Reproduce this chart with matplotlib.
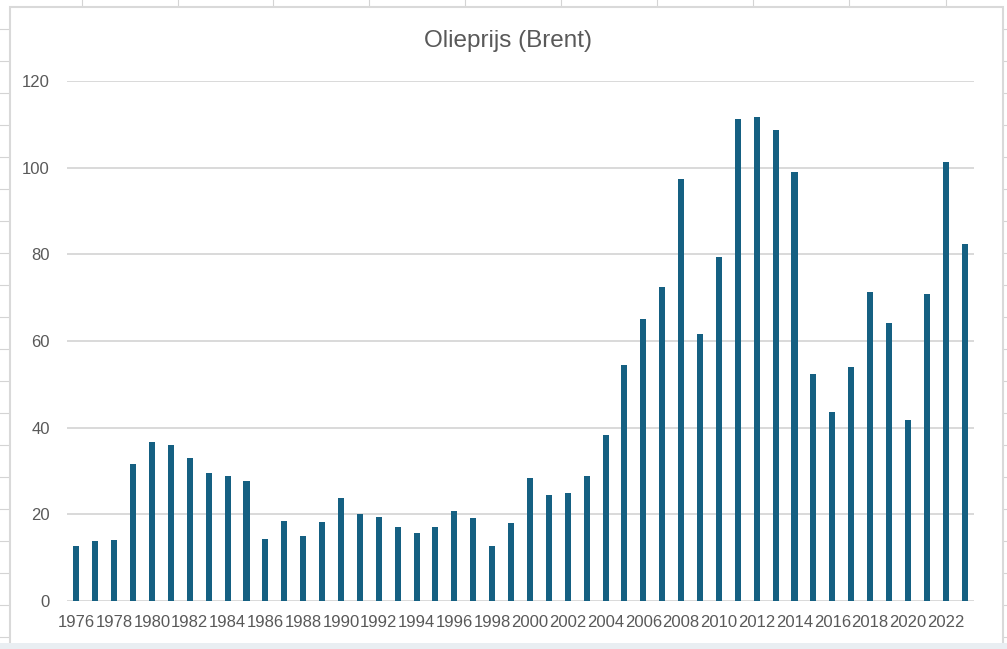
import matplotlib.pyplot as plt
from matplotlib.patches import Rectangle
from matplotlib.lines import Line2D

years = list(range(1976, 2024))
prices = [12.8, 13.9, 14.0, 31.6, 36.8, 35.9, 33.0, 29.5, 28.8, 27.6,
          14.4, 18.4, 14.9, 18.2, 23.7, 20.0, 19.3, 17.0, 15.8, 17.0,
          20.7, 19.1, 12.7, 17.9, 28.5, 24.4, 25.0, 28.8, 38.3, 54.5,
          65.1, 72.4, 97.3, 61.7, 79.5, 111.3, 111.6, 108.6, 99.0, 52.3,
          43.7, 54.1, 71.3, 64.2, 41.8, 70.9, 101.2, 82.5]
tick_labels = [str(y) if (y - 1976) % 2 == 0 else '' for y in years]

W, H = 1007, 649
fig = plt.figure(figsize=(W / 100, H / 100), dpi=100)
fig.patch.set_facecolor('white')

# spreadsheet cells behind the chart
for x in [82, 178, 273, 369, 465, 561, 657, 753, 849, 946]:
    fig.add_artist(Line2D([x / W, x / W], [1, 1 - 8 / H], color='#d4d4d4', lw=0.8, zorder=-5))
for y in range(29, 649, 32):
    fig.add_artist(Line2D([0, 10 / W], [1 - y / H, 1 - y / H], color='#d4d4d4', lw=0.8, zorder=-5))
    fig.add_artist(Line2D([1003 / W, 1], [1 - y / H, 1 - y / H], color='#d4d4d4', lw=0.8, zorder=-5))
fig.add_artist(Rectangle((10 / W, 0), 993 / W, 1 - 7 / H, transform=fig.transFigure,
                         facecolor='white', edgecolor='#d9d9d9', lw=1.5, zorder=-4))
fig.add_artist(Rectangle((0, 0), 1, 6 / H, transform=fig.transFigure,
                         facecolor='#e9eef2', edgecolor='none', zorder=-3))

ax = fig.add_axes([67 / W, 1 - 601 / H, (974 - 67) / W, (601 - 81) / H])
ax.set_facecolor('none')
ax.bar(range(len(years)), prices, width=0.32, color='#156082', zorder=3)
ax.set_xlim(-0.5, len(years) - 0.5)
ax.set_ylim(0, 120)
ax.set_yticks(range(0, 121, 20))
ax.yaxis.grid(True, color='#d9d9d9', lw=1.4, zorder=0)
for s in ax.spines.values():
    s.set_visible(False)
ax.set_xticks(range(len(years)))
ax.set_xticklabels(tick_labels)
ax.tick_params(length=0, labelsize=12, labelcolor='#595959')
ax.tick_params(axis='x', pad=10)
ax.tick_params(axis='y', pad=12.5)
for lab in ax.get_xticklabels() + ax.get_yticklabels():
    lab.set_family('Liberation Sans')

fig.text(508 / W, 1 - 41 / H, 'Olieprijs (Brent)', ha='center', va='center',
         fontsize=17.5, color='#595959', family='Liberation Sans')

fig.savefig('out.png', dpi=100)
